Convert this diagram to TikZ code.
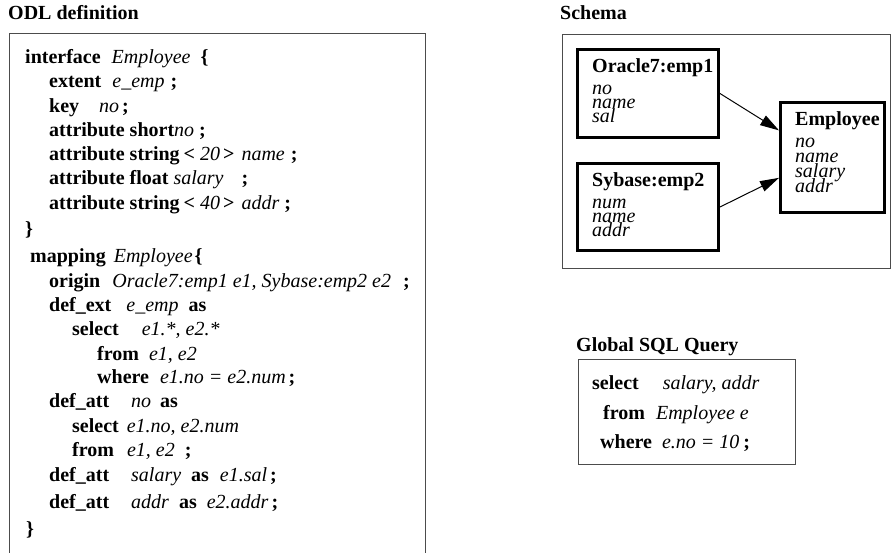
\documentclass[tikz,border=0pt]{standalone}
\usepackage{fontspec}
\setmainfont{Liberation Serif}
\usepackage{tikz}
\usetikzlibrary{calc}
\usetikzlibrary{arrows.meta}

\newcommand{\kw}[1]{\textbf{#1}}
\newcommand{\id}[1]{\textit{#1}}
\newcommand{\figsize}{\fontsize{20pt}{24pt}\selectfont}

\tikzset{
  frame/.style={draw=black!70, line width=1.2pt, anchor=north west, inner sep=0pt},
  relbox/.style={draw, line width=3pt, anchor=north west, inner sep=0pt},
  code/.style={anchor=base west, inner sep=0pt, font=\figsize},
  field/.style={anchor=base west, inner sep=0pt, font=\figsize\itshape},
  heading/.style={anchor=base west, inner sep=0pt, font=\figsize\bfseries},
  link/.style={-{Triangle[length=19pt,width=11pt]}, line width=1pt}
}

\begin{document}
\begin{tikzpicture}[x=1pt, y=-1pt, font=\figsize]
  \useasboundingbox (0,0) rectangle (891,552);
  % ---------------------------------------------------------------- ODL definition
  \node[heading] (odlT) at (8,19) {ODL definition};
  \node[frame, minimum width=416pt, minimum height=530pt] (odl) at (8.6,32.6) {};
  \node[code] (l1) at (25,63) {\kw{interface}\hspace{11pt}\id{Employee}\hspace{10pt}\kw{\{}};
  \node[code] (l2) at (49,87) {\kw{extent}\hspace{11pt}\id{e\_emp}\hspace{6pt}\kw{;}};
  \node[code] (l3) at (49,112) {\kw{key}\hspace{20pt}\id{no}\hspace{3pt}\kw{;}};
  \node[code] (l4) at (49,136) {\kw{attribute short}\id{no}\hspace{5pt}\kw{;}};
  \node[code] (l5) at (49,160) {\kw{attribute string}\hspace{4pt}\kw{<}\hspace{5pt}\id{20}\hspace{3pt}\kw{>}\hspace{7pt}\id{name}\hspace{6pt}\kw{;}};
  \node[code] (l6) at (49,184) {\kw{attribute float}\hspace{5pt}\id{salary}\hspace{18pt}\kw{;}};
  \node[code] (l7) at (49,209) {\kw{attribute string}\hspace{4pt}\kw{<}\hspace{5pt}\id{40}\hspace{3pt}\kw{>}\hspace{7pt}\id{addr}\hspace{5pt}\kw{;}};
  \node[code] (l8) at (25,235) {\kw{\}}};
  \node[code] (l9) at (30,262) {\kw{mapping}\hspace{8pt}\id{Employee}\hspace{2pt}\kw{\{}};
  \node[code] (l10) at (49,287) {\kw{origin}\hspace{12pt}\id{Oracle7:emp1 e1, Sybase:emp2 e2}\hspace{12pt}\kw{;}};
  \node[code] (l11) at (49,311) {\kw{def\_ext}\hspace{15pt}\id{e\_emp}\hspace{10pt}\kw{as}};
  \node[code] (l12) at (72,335) {\kw{select}\hspace{23pt}\id{e1.*, e2.*}};
  \node[code] (l13) at (97,360) {\kw{from}\hspace{10pt}\id{e1, e2}};
  \node[code] (l14) at (97,383) {\kw{where}\hspace{11pt}\id{e1.no = e2.num}\hspace{3pt}\kw{;}};
  \node[code] (l15) at (49,407) {\kw{def\_att}\hspace{22pt}\id{no}\hspace{9pt}\kw{as}};
  \node[code] (l16) at (72,432) {\kw{select}\hspace{8pt}\id{e1.no, e2.num}};
  \node[code] (l17) at (72,456) {\kw{from}\hspace{13pt}\id{e1, e2}\hspace{10pt}\kw{;}};
  \node[code] (l18) at (49,481) {\kw{def\_att}\hspace{22pt}\id{salary}\hspace{10pt}\kw{as}\hspace{11pt}\id{e1.sal}\hspace{3pt}\kw{;}};
  \node[code] (l19) at (49,508) {\kw{def\_att}\hspace{22pt}\id{addr}\hspace{10pt}\kw{as}\hspace{10pt}\id{e2.addr}\hspace{3pt}\kw{;}};
  \node[code] (l20) at (26,535) {\kw{\}}};
  % ---------------------------------------------------------------- Schema
  \node[heading] (schemaT) at (560,19) {Schema};
  \node[frame, minimum width=328pt, minimum height=234pt] (schema) at (561.6,33.6) {};
  % source relations
  \node[relbox, minimum width=141pt, minimum height=88pt] (oracle) at (576,48) {};
  \node[heading] (oracleT) at (592,72) {Oracle7:emp1};
  \foreach \f [count=\i] in {no,name,sal}
    \node[field] (ora-\i) at (592,{80+14*\i}) {\f};
  \node[relbox, minimum width=141pt, minimum height=87pt] (sybase) at (576,162) {};
  \node[heading] (sybaseT) at (592,186) {Sybase:emp2};
  \foreach \f [count=\i] in {num,name,addr}
    \node[field] (syb-\i) at (592,{194+14*\i}) {\f};
  % global class
  \node[relbox, minimum width=104pt, minimum height=110pt] (employee) at (779,101) {};
  \node[heading] (employeeT) at (795,125) {Employee};
  \foreach \f [count=\i] in {no,name,salary,addr}
    \node[field] (emp-\i) at (795,{132+15*\i}) {\f};
  \coordinate (empIn1) at ($(employee.north west)!0.26!(employee.south west)$);
  \coordinate (empIn2) at ($(employee.north west)!0.68!(employee.south west)$);
  \draw[link] (oracle.east) -- (empIn1);
  \draw[link] (sybase.east) -- (empIn2);
  % ---------------------------------------------------------------- Global SQL Query
  \node[heading] (queryT) at (576,351) {Global SQL Query};
  \node[frame, minimum width=217pt, minimum height=105pt] (query) at (577.6,358.6) {};
  \node[code] (q1) at (592,389) {\kw{select}\hspace{24pt}\id{salary, addr}};
  \node[code] (q2) at (603,419) {\kw{from}\hspace{11pt}\id{Employee e}};
  \node[code] (q3) at (600,448) {\kw{where}\hspace{10pt}\id{e.no = 10}\hspace{4pt}\kw{;}};
\end{tikzpicture}
\end{document}
